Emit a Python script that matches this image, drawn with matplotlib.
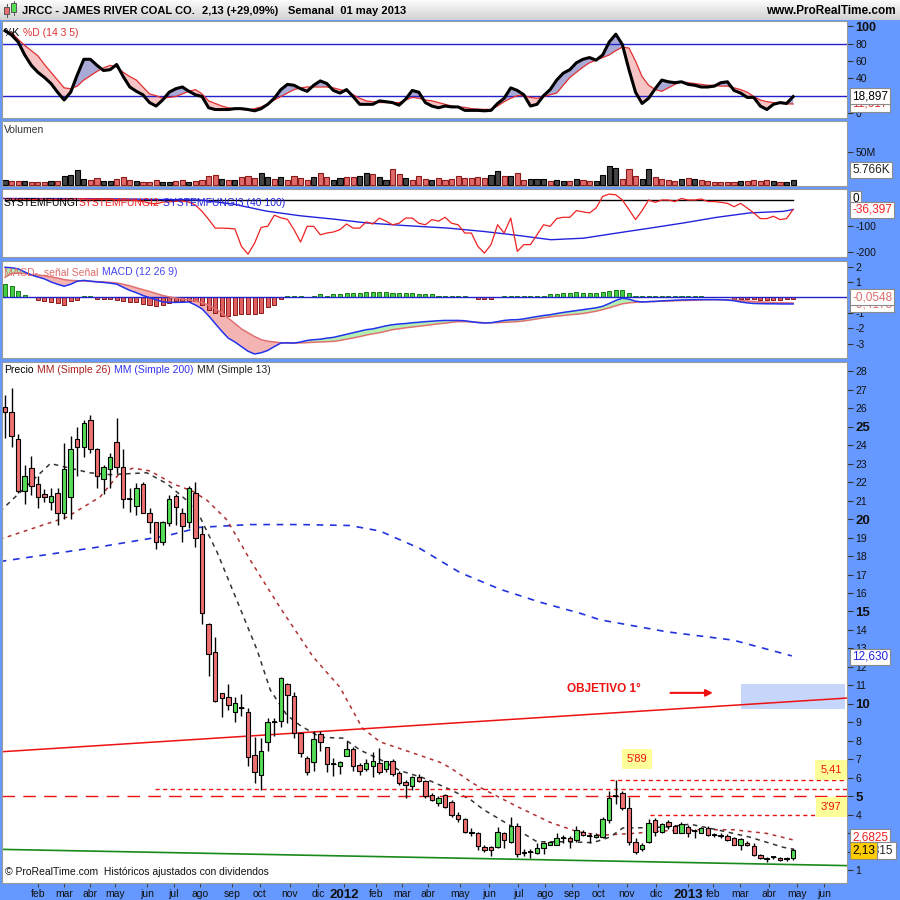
import matplotlib
matplotlib.use("Agg")
import matplotlib.pyplot as plt
import numpy as np

plt.rcParams['font.family'] = ['Liberation Sans', 'DejaVu Sans']

# ---- weekly candles (JRCC) ----
opens = [26.05, 25.8, 24.3, 21.5, 22.75, 21.9, 21.35, 20.9, 21.4, 20.3,
         21.2, 24.3, 23.9, 25.35, 23.8, 22.15, 22.7, 24.15, 22.8, 21.1,
         20.7, 21.9, 20.3, 19.85, 18.75, 19.8, 21.25, 20.3, 19.85, 21.4,
         19.2, 14.3, 12.8, 10.6, 10.4, 9.55, 9.8, 9.55, 7.25, 6.15,
         7.95, 9.0, 9.1, 11.1, 10.45, 8.45, 7.1, 6.85, 8.4, 7.7,
         6.75, 6.65, 7.2, 7.55, 6.7, 6.5, 6.65, 6.8, 6.5, 6.9,
         6.25, 5.8, 5.55, 6.05, 5.85, 5.1, 4.65, 5.1, 4.7, 4.0,
         3.8, 3.1, 3.0, 2.27, 2.25, 2.27, 3.0, 2.55, 3.4, 2.0,
         2.0, 1.95, 2.2, 2.4, 2.4, 2.75, 2.75, 2.65, 3.1, 2.85,
         2.8, 2.8, 3.7, 5.05, 5.2, 4.4, 2.55, 2.15, 2.55, 3.7,
         3.1, 3.6, 3.4, 3.05, 3.35, 3.15, 3.05, 3.3, 2.9, 2.85,
         2.85, 2.75, 2.4, 2.5, 2.3, 1.85, 1.6, 1.7, 1.65, 1.6,
         1.65]
highs = [26.7, 27.1, 24.6, 22.9, 23.4, 22.3, 21.6, 21.7, 21.7, 24.1,
         24.5, 25.0, 25.35, 25.6, 23.85, 22.9, 23.55, 25.45, 23.8, 21.7,
         21.95, 22.0, 20.6, 19.85, 19.9, 21.3, 21.35, 20.6, 21.8, 22.0,
         19.6, 14.4, 13.6, 10.6, 11.1, 10.4, 10.55, 9.8, 8.2, 8.15,
         9.25, 9.25, 11.45, 11.15, 10.65, 8.5, 7.2, 8.55, 8.55, 7.7,
         7.1, 6.9, 8.0, 7.7, 6.8, 7.0, 7.4, 7.6, 6.9, 7.0,
         6.4, 5.9, 6.1, 6.2, 5.9, 5.2, 5.0, 5.15, 4.8, 4.15,
         3.85, 3.3, 3.1, 2.4, 2.3, 3.35, 3.1, 3.9, 3.55, 2.15,
         2.15, 2.5, 2.55, 2.6, 3.0, 2.9, 2.85, 3.4, 3.2, 3.05,
         3.0, 3.9, 5.3, 5.89, 5.3, 4.95, 2.75, 2.5, 3.8, 3.85,
         3.55, 3.7, 3.45, 3.6, 3.45, 3.25, 3.35, 3.4, 3.0, 3.0,
         2.95, 2.8, 2.75, 2.6, 2.5, 1.9, 1.7, 1.8, 1.7, 1.7,
         2.2]
lows = [24.4, 23.9, 21.4, 20.8, 21.3, 20.6, 20.9, 20.5, 19.7, 20.0,
        20.0, 22.3, 23.35, 23.55, 21.7, 21.35, 21.7, 22.5, 20.6, 20.4,
        20.2, 20.3, 19.25, 18.4, 18.6, 19.6, 19.7, 18.75, 19.5, 18.5,
        14.3, 11.5, 10.1, 9.3, 9.7, 9.0, 9.35, 6.65, 5.75, 5.35,
        7.45, 8.25, 8.75, 8.95, 8.15, 7.15, 6.15, 6.4, 7.45, 6.3,
        6.1, 6.2, 7.2, 6.4, 6.15, 6.35, 6.05, 6.2, 6.3, 6.1,
        5.6, 4.9, 5.35, 5.8, 4.9, 4.75, 4.5, 4.4, 3.9, 3.6,
        3.0, 2.85, 2.1, 2.0, 1.8, 2.2, 2.2, 2.5, 1.75, 1.8,
        1.65, 1.9, 1.9, 2.35, 2.35, 2.5, 2.2, 2.55, 2.85, 2.5,
        2.75, 2.75, 3.55, 4.6, 4.25, 2.4, 1.9, 2.05, 2.5, 2.85,
        3.05, 3.25, 3.0, 3.0, 2.8, 2.75, 3.0, 2.85, 2.8, 2.75,
        2.6, 2.35, 2.1, 2.3, 1.8, 1.6, 1.45, 1.6, 1.5, 1.5,
        1.55]
closes = [25.8, 24.5, 21.5, 22.3, 21.8, 21.2, 21.2, 21.25, 20.3, 22.7,
          23.8, 23.9, 25.2, 23.8, 22.3, 22.8, 23.35, 22.8, 21.1, 21.1,
          21.7, 20.3, 19.85, 18.75, 19.85, 21.1, 20.65, 19.6, 21.7, 19.0,
          14.9, 12.7, 10.15, 10.3, 9.95, 10.05, 9.8, 7.15, 6.3, 7.45,
          9.0, 9.0, 11.4, 10.5, 8.45, 7.35, 6.3, 8.1, 7.95, 6.75,
          6.75, 6.85, 7.55, 6.65, 6.4, 6.8, 6.9, 6.3, 6.9, 6.2,
          5.7, 5.6, 6.05, 5.85, 5.0, 4.8, 4.9, 4.45, 4.0, 3.8,
          3.1, 3.0, 2.3, 2.1, 2.1, 3.1, 2.65, 3.4, 1.9, 1.95,
          2.0, 2.2, 2.5, 2.55, 2.75, 2.75, 2.6, 3.2, 2.9, 2.85,
          2.9, 3.8, 4.9, 5.05, 4.4, 2.55, 2.0, 2.4, 3.55, 3.1,
          3.5, 3.4, 3.05, 3.5, 3.05, 3.15, 3.3, 2.9, 2.9, 2.85,
          2.65, 2.4, 2.7, 2.35, 1.85, 1.65, 1.6, 1.7, 1.55, 1.65,
          2.13]

# volume in millions, colour k = up week, r = down week
volume = [7.2, 5.2, 5.2, 5.2, 4.2, 4.2, 4.2, 5.2, 5.6, 12.8,
          14.3, 22, 9.2, 7.7, 10.2, 5.2, 5.2, 8.7, 11.3, 7.7,
          6.1, 4.2, 4.2, 7.2, 4.2, 4.2, 6, 7.2, 4.2, 5.2,
          7.7, 12.8, 14.3, 8.7, 7.2, 7.2, 11.3, 12.8, 10.2, 17.3,
          11.3, 9.2, 11.3, 7.7, 12.8, 10.2, 7.7, 11.3, 17.8, 11.3,
          7.2, 10.2, 11.3, 11.3, 12.8, 17.8, 16.5, 11.7, 7.7, 24,
          16.5, 10.2, 7.7, 12.8, 8.7, 7.7, 10.2, 7.7, 9.2, 12.8,
          10.2, 10.2, 11.3, 10.2, 14.3, 21.4, 12.8, 12.8, 17.8, 7.7,
          9.2, 9.2, 9.2, 6, 7.7, 5.2, 5.2, 9.2, 6.6, 6,
          5.2, 14.3, 29, 25.5, 8.7, 24, 14, 9.2, 24, 11.7,
          8.7, 7.7, 5.2, 8.7, 10.2, 8.7, 7.7, 5.2, 4.6, 4.6,
          4.2, 4.2, 5.2, 5.2, 7.7, 5.2, 7.7, 5.2, 4.2, 4.2,
          6.6]
vol_dir = ("krrkrrrkrk" "kkkrrkkrrr" "krrrkkrrkr" "rrrkrkrrrk" "krkrrrrkrr"
           "kkrrkkrkkr" "rkrrrkrrrr" "rrrrkkrkrr" "kkkrkkrkrr" "kkkkrrrkkr"
           "rrrkrkrrrr" "rrkrrrrkrk" "k")

# stochastic %K / %D (14 3 5)
stoch_k = [95, 90, 82, 67, 55, 47, 41, 34, 24, 15,
           24, 44, 62, 62, 55, 49, 50, 56, 42, 30,
           25, 21, 12, 8, 15, 24, 28, 30, 25, 21,
           19, 6, 4, 4, 4, 5, 5, 4, 2.5, 5,
           10, 17, 27, 33, 32, 28, 25, 32, 37, 34,
           26, 23, 27, 19, 10, 10, 10, 14, 13, 12,
           9, 16, 26, 24, 12, 8, 6, 8, 7, 7,
           3, 3, 3, 2.5, 3, 11, 17, 29, 26, 21,
           8, 10, 20, 27, 38, 46, 50, 58, 62, 64,
           61, 67, 82, 91, 79, 50, 24, 11, 17, 28,
           38, 36, 35, 36, 33, 32, 30, 30, 31, 35,
           36, 26, 23, 18, 18, 8, 4, 10, 12, 11,
           18.9]
stoch_d = [94, 93, 85, 78, 72, 66, 56, 47, 38, 29,
           28, 31, 38, 43, 48, 52, 55, 53, 47, 42,
           38, 30, 22, 20, 17, 18, 19, 22, 25, 27,
           22, 14, 11, 8, 6, 5, 4, 3.5, 5, 7,
           10, 15, 19, 23, 27, 29, 30, 30, 30, 30,
           29, 27, 25, 21, 17, 14, 13, 12, 12, 12,
           12, 15, 18, 17, 15, 14, 12, 10, 8, 7,
           6.5, 5, 4.5, 4.2, 4.2, 8, 13, 17, 20, 20,
           18, 17, 19, 21, 23, 32, 41, 47, 53, 58,
           61, 64, 67, 72, 76, 75, 60, 42, 32, 27,
           25, 29, 33, 36, 35, 34, 33, 32, 32, 31,
           31, 29, 27, 24, 19, 15, 13, 12, 11, 10.5,
           10.4]

# SYSTEMFUNGI2 (red) per week, SYSTEMFUNGI3 (blue) sampled
fungi2 = [5, 4, 3, 3, 2, 3, 4, 3, 2, 3,
          4, 5, 4, 3, 2, 3, 2, 1, 0, 0,
          -2, -6, -12, -15, -8, -7, -5, -4, -8, -20,
          -44, -75, -109, -109, -110, -112, -180, -210, -167, -106,
          -102, -59, -69, -75, -115, -163, -102, -102, -135, -128,
          -124, -115, -93, -109, -109, -85, -93, -70, -82, -96,
          -90, -70, -70, -90, -96, -76, -82, -67, -90, -96,
          -128, -128, -180, -206, -173, -96, -128, -70, -199, -173,
          -173, -135, -96, -102, -72, -67, -67, -41, -46, -50,
          -31, 14, 23, 20, 0, -37, -76, -41, 0, -9,
          0, 0, -6, 6, 0, 0, 4, -6, -6, -9,
          -13, -26, -13, -31, -50, -72, -72, -63, -76, -72,
          -36.4]
fungi3_wk = [-0.8, 15, 29.7, 34.8, 39.8, 44.9, 50, 55.1, 60.2, 67.5,
             72.9, 78, 83.1, 88.1, 93.2, 98.2, 103.3, 108.4, 113.4, 118.5, 120]
fungi3_val = [6, 5, 0, -16, -43, -61, -74, -89, -98, -109,
              -122, -137, -154, -148, -128, -109, -89, -67, -50, -44, -37]

# MACD (12 26 9)
macd = [1.95, 1.92, 1.85, 1.65, 1.45, 1.32, 1.2, 1.0, 0.85, 0.72,
        0.85, 1.05, 1.1, 1.05, 1.0, 0.97, 0.92, 0.86, 0.65, 0.45,
        0.3, 0.12, -0.02, -0.15, -0.3, -0.33, -0.33, -0.32, -0.3, -0.5,
        -0.75, -1.2, -1.7, -2.2, -2.65, -2.9, -3.2, -3.5, -3.68, -3.6,
        -3.45, -3.2, -2.97, -2.95, -2.97, -2.9, -2.8, -2.75, -2.72, -2.65,
        -2.6, -2.5, -2.4, -2.3, -2.2, -2.1, -2.05, -1.95, -1.85, -1.78,
        -1.73, -1.7, -1.65, -1.62, -1.58, -1.55, -1.52, -1.5, -1.5, -1.5,
        -1.52, -1.58, -1.64, -1.67, -1.65, -1.58, -1.5, -1.46, -1.45, -1.4,
        -1.32, -1.25, -1.18, -1.13, -1.05, -0.98, -0.92, -0.86, -0.8, -0.74,
        -0.68, -0.58, -0.4, -0.2, -0.06, -0.12, -0.25, -0.3, -0.28, -0.26,
        -0.23, -0.21, -0.19, -0.17, -0.16, -0.15, -0.15, -0.15, -0.15, -0.16,
        -0.18, -0.22, -0.3, -0.36, -0.4, -0.41, -0.42, -0.42, -0.43, -0.43,
        -0.43]
signal = [1.3, 1.55, 1.58, 1.55, 1.48, 1.45, 1.4, 1.33, 1.25, 1.15,
          1.1, 1.08, 1.06, 1.04, 1.02, 1.0, 0.97, 0.93, 0.85, 0.75,
          0.62, 0.5, 0.38, 0.25, 0.12, 0.03, -0.05, -0.1, -0.15, -0.25,
          -0.35, -0.5, -0.75, -1.0, -1.35, -1.7, -2.05, -2.3, -2.55, -2.75,
          -2.85, -2.9, -2.95, -2.97, -2.97, -2.96, -2.94, -2.92, -2.9, -2.88,
          -2.86, -2.8, -2.72, -2.64, -2.55, -2.45, -2.37, -2.3, -2.2, -2.1,
          -2.04, -1.98, -1.93, -1.88, -1.83, -1.77, -1.72, -1.68, -1.62, -1.58,
          -1.58, -1.6, -1.62, -1.65, -1.65, -1.64, -1.62, -1.6, -1.58, -1.53,
          -1.47, -1.4, -1.33, -1.27, -1.22, -1.18, -1.13, -1.1, -1.05, -0.98,
          -0.9, -0.8, -0.68, -0.55, -0.42, -0.36, -0.32, -0.3, -0.28, -0.27,
          -0.25, -0.24, -0.22, -0.21, -0.2, -0.19, -0.17, -0.15, -0.15, -0.15,
          -0.16, -0.18, -0.21, -0.24, -0.27, -0.3, -0.32, -0.34, -0.35, -0.36,
          -0.37]
macd_hist = [0.86, 0.71, 0.39, 0.17, 0, -0.15, -0.26, -0.33, -0.37, -0.48,
             -0.26, -0.15, 0.06, 0.06, -0.1, -0.1, -0.1, -0.15, -0.26, -0.33,
             -0.33, -0.43, -0.5, -0.58, -0.48, -0.37, -0.26, -0.26, -0.22, -0.26,
             -0.48, -0.8, -1.02, -1.24, -1.24, -1.13, -1.08, -1.08, -1.08, -1.02,
             -0.65, -0.48, -0.1, 0.11, 0.11, 0.06, 0, 0.11, 0.2, 0.11,
             0.2, 0.2, 0.28, 0.28, 0.28, 0.35, 0.35, 0.35, 0.35, 0.28,
             0.28, 0.28, 0.28, 0.2, 0.2, 0.2, 0.11, 0.11, 0.11, 0.06,
             0.06, 0, -0.1, -0.1, -0.1, 0, 0.06, 0.11, 0.11, 0.06,
             0.06, 0.11, 0.11, 0.2, 0.2, 0.28, 0.28, 0.35, 0.28, 0.28,
             0.28, 0.35, 0.43, 0.45, 0.45, 0.28, 0.11, 0.06, 0.11, 0.11,
             0.11, 0.06, 0.06, 0.06, 0.06, 0.06, 0.06, 0, 0, 0,
             0, -0.1, -0.1, -0.1, -0.1, -0.15, -0.15, -0.15, -0.15, -0.1,
             -0.08]

# moving averages (week index, price)
ma13_wk = [-0.8, 6.9, 12.9, 16, 21.6, 24.7, 27.7, 29.7, 32.3, 35.3, 38.4, 40.4, 42.9,
           44.9, 48, 51.5, 54.1, 57.1, 60.1, 63.7, 67.3, 70.8, 72.8, 78, 81, 85.6,
           89.5, 92.1, 94.1, 96.2, 100.8, 104.3, 108.4, 113.4, 118.5, 120]
ma13_val = [20.4, 23.0, 22.5, 22.4, 22.5, 21.9, 21.0, 20.1, 18.2, 15.6, 12.9, 10.75, 9.4,
            8.85, 8.2, 8.15, 7.5, 7.0, 6.4, 6.0, 5.45, 4.85, 4.3, 3.2, 2.55, 2.55,
            2.5, 2.8, 3.3, 3.3, 3.35, 3.5, 3.2, 2.8, 2.25, 2.15]
ma26_wk = [-0.8, 4.3, 9.4, 14.5, 17.5, 19.5, 22.1, 25.6, 28.6, 30.8, 33.8, 37.3, 41.9,
           46.9, 51, 54.4, 57.1, 62.1, 66.2, 67.8, 71.3, 72.8, 78, 83, 87.1, 90.6,
           95.6, 100.8, 105.8, 110.9, 116, 120]
ma26_val = [18.9, 19.5, 20.1, 21.2, 22.5, 22.75, 22.6, 21.9, 21.5, 21.0, 19.95, 17.8, 15.2,
            12.55, 10.9, 8.7, 7.95, 7.35, 6.85, 6.55, 5.7, 5.4, 4.45, 3.6, 3.1, 2.9,
            3.0, 3.15, 3.2, 3.2, 3.0, 2.65]
ma200_wk = [-0.8, 14.5, 24.7, 29.7, 37.3, 44.9, 52.5, 57.1, 63.2, 69.3, 75.4, 81.5,
            87.6, 90.6, 100.8, 110.9, 119.8]
ma200_val = [17.7, 18.5, 19.1, 19.55, 19.7, 19.7, 19.65, 19.35, 18.4, 17.1, 16.2, 15.5,
             14.9, 14.55, 13.9, 13.45, 12.6]

# drawn annotations
trend_red_wk = [-0.8, 128.2]
trend_red_px = [7.41, 10.32]
trend_green_wk = [-0.8, 128.2]
trend_green_px = [2.14, 1.26]
levels = [5.89, 5.41, 3.97]
level_start = [92.1, 22.8, 98.2]
target_zone = (112.1, 127.9, 9.73, 11.08)

month_pos = [5.0, 9.0, 12.9, 16.8, 21.6, 25.7, 29.7, 34.6, 38.8, 43.4, 47.7, 51.6,
             56.5, 60.5, 64.4, 69.3, 73.7, 78.1, 82.2, 86.3, 90.3, 94.7, 99.1, 104.0,
             107.8, 111.9, 116.3, 120.6, 124.7]
month_lab = ['feb', 'mar', 'abr', 'may', 'jun', 'jul', 'ago', 'sep', 'oct', 'nov', 'dic', '2012',
             'feb', 'mar', 'abr', 'may', 'jun', 'jul', 'ago', 'sep', 'oct', 'nov', 'dic', '2013',
             'feb', 'mar', 'abr', 'may', 'jun']

BG = '#6699ff'
XL = (-0.46, 128.2)
weeks = np.arange(len(closes))
o = np.array(opens); c = np.array(closes)

fig = plt.figure(figsize=(9, 9), dpi=100, facecolor=BG)


def panel(top, bottom, ylim):
    ax = fig.add_axes([2 / 900, 1 - bottom / 900, 845 / 900, (bottom - top) / 900])
    ax.set_facecolor('white')
    ax.set_xlim(XL)
    ax.set_ylim(ylim)
    for s in ax.spines.values():
        s.set_color('#9a9a9a')
    ax.yaxis.tick_right()
    ax.tick_params(axis='y', direction='out', length=4, width=0.8, color='#333333',
                   labelsize=7.5, pad=2, labelcolor='#111111')
    ax.tick_params(axis='x', bottom=False, labelbottom=False)
    return ax


def label_chain(ax, parts, y=0.93, size=7.5):
    t = ax.text(0.002, y, parts[0][0], color=parts[0][1], fontsize=size,
                transform=ax.transAxes, va='bottom', ha='left', zorder=20)
    for txt, col, gap in parts[1:]:
        t = ax.annotate(txt, xy=(1, 0), xycoords=t, xytext=(gap, 0),
                        textcoords='offset points', va='bottom', ha='left',
                        color=col, fontsize=size, zorder=20)


def value_box(ax, y, txt, col, fc='white', size=8.5, x=1.006):
    ax.text(x, y, txt, transform=ax.get_yaxis_transform(), color=col, fontsize=size,
            va='center', ha='left', clip_on=False, zorder=30,
            bbox=dict(boxstyle='square,pad=0.18', fc=fc, ec='#8a8a8a', lw=0.8))


# ---- header bar ----
hd = fig.add_axes([0, 1 - 20 / 900, 1, 20 / 900])
grey = matplotlib.colors.LinearSegmentedColormap.from_list('g', ['#fbfbfb', '#d2d2d2'])
hd.imshow(np.linspace(0, 1, 20).reshape(-1, 1), cmap=grey, aspect='auto', extent=(0, 900, 20, 0))
hd.set_xlim(0, 900); hd.set_ylim(20, 0); hd.axis('off')
hd.add_patch(plt.Rectangle((4, 7), 5, 7, fc='#e87070', ec='#555555', lw=0.7))
hd.plot([6.5, 6.5], [4, 17], color='#555555', lw=0.7, zorder=0)
hd.add_patch(plt.Rectangle((11, 3), 5, 9, fc='#55dd55', ec='#555555', lw=0.7))
hd.plot([13.5, 13.5], [1, 15], color='#555555', lw=0.7, zorder=0)
hd.text(22, 10.5, 'JRCC - JAMES RIVER COAL CO.', fontsize=8, fontweight='bold', va='center')
hd.text(202, 10.5, '2,13 (+29,09%)', fontsize=8, fontweight='bold', va='center')
hd.text(288, 10.5, 'Semanal  01 may 2013', fontsize=8, fontweight='bold', va='center')
hd.text(896, 10.5, 'www.ProRealTime.com', fontsize=8.5, fontweight='bold', va='center', ha='right')

# ---- stochastic ----
ax1 = panel(21, 118, (-5.8, 106.2))
k = np.array(stoch_k); d = np.array(stoch_d)
ax1.fill_between(weeks, k, d, where=k >= d, interpolate=True, color='#aaaad6', lw=0)
ax1.fill_between(weeks, k, d, where=k < d, interpolate=True, color='#f6c4c4', lw=0)
ax1.axhline(80, color='#2222cc', lw=1)
ax1.axhline(20, color='#2222cc', lw=1)
ax1.plot(weeks, d, color='#e03030', lw=0.9)
ax1.plot(weeks, k, color='black', lw=2.2)
ax1.set_yticks([0, 40, 60, 80, 100])
ax1.set_yticklabels(['0', '40', '60', '80', '100'])
ax1.get_yticklabels()[-1].set_fontweight('bold')
ax1.get_yticklabels()[-1].set_fontsize(9)
label_chain(ax1, [('%K', 'black'), ('%D (14 3 5)', '#e03030', 2)], y=0.82)
value_box(ax1, 11, '11,617', '#e03030')
value_box(ax1, 19.6, '18,897', 'black')

# ---- volume ----
ax2 = panel(121, 186, (-2, 97.4))
vcol = ['#444444' if s == 'k' else '#e06a6a' for s in vol_dir]
vedge = ['black' if s == 'k' else '#8b1a1a' for s in vol_dir]
ax2.bar(weeks, volume, width=0.78, color=vcol, edgecolor=vedge, lw=0.8)
ax2.set_yticks([50])
ax2.set_yticklabels(['50M'])
label_chain(ax2, [('Volumen', '#333333')], y=0.78)
value_box(ax2, 22.5, '5.766K', '#222222')

# ---- SYSTEMFUNGI ----
ax3 = panel(189, 257, (-221, 42.7))
ax3.plot([weeks[0], weeks[-1]], [0, 0], color='black', lw=1)
ax3.plot(fungi3_wk, fungi3_val, color='#2222dd', lw=1)
ax3.plot(weeks, fungi2, color='#ee2222', lw=0.9)
ax3.set_yticks([-100, -200])
ax3.set_yticklabels(['-100', '-200'])
label_chain(ax3, [('SYSTEMFUNGI', 'black'), ('SYSTEMFUNGI2', '#ee2222', 0),
                  ('SYSTEMFUNGI3 (40 100)', '#2222dd', 2.5)], y=0.72)
value_box(ax3, 4, '0', 'black')
value_box(ax3, -38, '-36,397', '#ee2222')

# ---- MACD ----
ax4 = panel(261, 358, (-3.94, 2.36))
m = np.array(macd); sg = np.array(signal); h = np.array(macd_hist)
ax4.fill_between(weeks, m, sg, where=m >= sg, interpolate=True, color='#b4f0b4', lw=0)
ax4.fill_between(weeks, m, sg, where=m < sg, interpolate=True, color='#f5b4b4', lw=0)
ax4.bar(weeks, h, width=0.62, color=np.where(h >= 0, '#44cc44', '#e06060'),
        edgecolor=np.where(h >= 0, '#1a7a1a', '#8b1a1a'), lw=0.7)
ax4.axhline(0, color='#2222cc', lw=1)
ax4.plot(weeks, sg, color='#e07070', lw=1.1)
ax4.plot(weeks, m, color='#2233ee', lw=1.1)
ax4.set_yticks([2, 1, -1, -2, -3])
ax4.set_yticklabels(['2', '1', '-1', '-2', '-3'])
label_chain(ax4, [('MACD-, señal Señal', '#e06c6c'), ('MACD (12 26 9)', '#4444ee', 2.5)], y=0.83)
value_box(ax4, -0.45, '-0,4175', '#e06c6c')
value_box(ax4, 0, '-0,0548', '#e06c6c')

# ---- price ----
ax5 = panel(362, 883, (0.32, 28.49))
x0, x1, y0, y1 = target_zone
ax5.add_patch(plt.Rectangle((x0, y0), x1 - x0, y1 - y0, fc='#c6d6fb', ec='none', zorder=1))
ax5.plot(ma200_wk, ma200_val, color='#2233dd', lw=1.2, dashes=(4, 4), zorder=2)
ax5.plot(ma26_wk, ma26_val, color='#b03030', lw=1.1, dashes=(2.5, 3), zorder=2)
ax5.plot(ma13_wk, ma13_val, color='#333333', lw=1.1, dashes=(3, 3), zorder=2)
ax5.axhline(5.0, color='#ee1111', lw=1, dashes=(9, 6), zorder=2)
for lv, st in zip(levels, level_start):
    ax5.plot([st, XL[1]], [lv, lv], color='#ee1111', lw=1, dashes=(3, 2.5), zorder=2)
ax5.plot(trend_red_wk, trend_red_px, color='#ee1111', lw=1.1, zorder=2)
ax5.plot(trend_green_wk, trend_green_px, color='#1a8a1a', lw=1.2, zorder=2)

hi = np.array(highs); lo = np.array(lows)
ax5.vlines(weeks, lo, hi, color='black', lw=1, zorder=3)
body_lo = np.minimum(o, c)
body_h = np.abs(c - o)
cols = np.where(c > o, '#55dd55', '#ee7070')
ax5.bar(weeks, body_h, bottom=body_lo, width=0.68, color=cols, edgecolor='black', lw=0.8, zorder=4)
doji = np.abs(c - o) < 0.02
ax5.hlines(c[doji], weeks[doji] - 0.4, weeks[doji] + 0.4, color='black', lw=1.3, zorder=4)

ax5.text(91.2, 10.8, 'OBJETIVO 1°', color='#ee1111', fontsize=8.5, fontweight='bold',
         ha='center', va='center', zorder=6)
ax5.annotate('', xy=(108.2, 10.6), xytext=(100.9, 10.6),
             arrowprops=dict(arrowstyle='-|>', color='#ee1111', lw=1.5, mutation_scale=10), zorder=6)
yb = dict(boxstyle='square,pad=0.45', fc='#ffff99', ec='none')
ax5.text(96.2, 7.03, "5'89", color='#ee1111', fontsize=8, ha='center', va='center', bbox=yb, zorder=6)
ax5.text(125.8, 6.43, '5,41', color='#ee1111', fontsize=8, ha='center', va='center', bbox=yb, zorder=6)
ax5.text(125.8, 4.43, "3'97", color='#ee1111', fontsize=8, ha='center', va='center', bbox=yb, zorder=6)

ticks = list(range(1, 29))
ax5.set_yticks(ticks)
ax5.set_yticklabels([str(t) for t in ticks])
for t, lab in zip(ticks, ax5.get_yticklabels()):
    if t % 5 == 0:
        lab.set_fontweight('bold')
        lab.set_fontsize(9.5)
ax5.set_xticks(month_pos)
ax5.set_xticklabels(month_lab)
ax5.tick_params(axis='x', bottom=True, labelbottom=True, direction='out', length=3,
                color='#444444', labelsize=7.5, pad=1.5, labelcolor='#111111')
for lab in ax5.get_xticklabels():
    if lab.get_text() in ('2012', '2013'):
        lab.set_fontweight('bold')
        lab.set_fontsize(9.5)
label_chain(ax5, [('Precio', 'black'), ('MM (Simple 26)', '#aa2020', 2.5),
                  ('MM (Simple 200)', '#3333ee', 2.5), ('MM (Simple 13)', '#222222', 2.5)], y=0.975)
ax5.text(0.004, 0.021, '© ProRealTime.com  Históricos ajustados con dividendos', fontsize=7.5,
         transform=ax5.transAxes, va='center', ha='left', color='#111111', zorder=6)
value_box(ax5, 12.55, '12,630', '#2222dd')
value_box(ax5, 2.8, '2,6825', '#ee2222')
value_box(ax5, 2.08, '2,315', '#222222', x=1.02)
value_box(ax5, 2.08, '2,13', 'black', fc='#ffcc00')

fig.savefig('out.png', dpi=100, facecolor=BG)
